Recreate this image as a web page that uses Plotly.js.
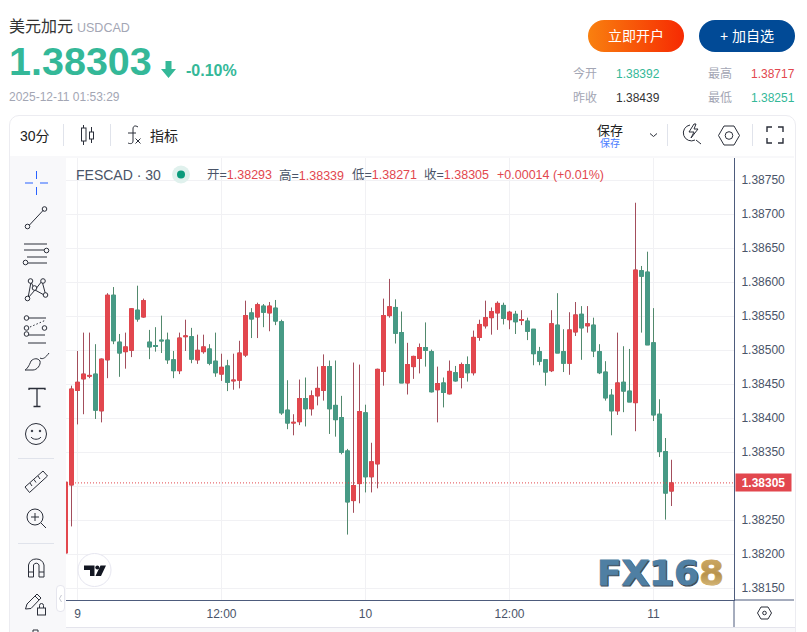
<!DOCTYPE html>
<html><head><meta charset="utf-8">
<script src="https://cdn.plot.ly/plotly-3.0.1.min.js"></script>
<style>
html,body{margin:0;padding:0;width:807px;height:632px;overflow:hidden;background:#fff;font-family:"Liberation Sans","Noto Sans CJK SC",sans-serif}
.a{position:absolute;white-space:nowrap;line-height:1}
#frame{position:absolute;left:9px;top:115px;width:785px;height:530px;border:1px solid #ececf1;border-radius:10px;background:#fff;box-sizing:content-box}
#band{position:absolute;left:10px;top:156px;width:784px;height:2px;background:#f8f8fa}
#side{position:absolute;left:10px;top:156px;width:56px;height:476px;background:#f8f8fa}
#foot{position:absolute;left:66px;top:627px;width:729px;height:5px;background:#f8f8fa;border-top:1px solid #e4e4ec;box-sizing:border-box}
#chart{position:absolute;left:0;top:0;width:807px;height:632px}
#over{position:absolute;left:0;top:0;width:807px;height:632px;pointer-events:none}
.btn{position:absolute;top:20px;width:96px;height:32px;border-radius:16px;color:#fff;font-size:14px;line-height:32px;text-align:center}
</style></head><body>
<div id="frame"></div><div id="band"></div><div id="side"></div><div id="foot"></div>
<div id="chart"></div>

<div class="a" style="left:9px;top:19px;font-size:16px;color:#333">美元加元</div>
<div class="a" style="left:77px;top:22px;font-size:12.5px;color:#a3a6b4">USDCAD</div>
<div class="a" style="left:9px;top:42px;font-size:39.5px;font-weight:700;color:#34b898">1.38303</div>
<div class="a" style="left:186px;top:63px;font-size:16px;font-weight:700;color:#34b898">-0.10%</div>
<div class="a" style="left:9px;top:91px;font-size:12px;color:#a3a6b4">2025-12-11 01:53:29</div>
<div class="btn" style="left:588px;background:linear-gradient(90deg,#f9800f,#f62a02)">立即开户</div>
<div class="btn" style="left:699px;background:#014a96">+ 加自选</div>
<div class="a" style="left:573px;top:68px;font-size:12px;color:#a3a6b4">今开</div>
<div class="a" style="left:616px;top:68px;font-size:12px;color:#34b898">1.38392</div>
<div class="a" style="left:708px;top:68px;font-size:12px;color:#a3a6b4">最高</div>
<div class="a" style="left:751px;top:68px;font-size:12px;color:#e2474e">1.38717</div>
<div class="a" style="left:573px;top:92px;font-size:12px;color:#a3a6b4">昨收</div>
<div class="a" style="left:616px;top:92px;font-size:12px;color:#333">1.38439</div>
<div class="a" style="left:708px;top:92px;font-size:12px;color:#a3a6b4">最低</div>
<div class="a" style="left:751px;top:92px;font-size:12px;color:#34b898">1.38251</div>
<div class="a" style="left:20px;top:129px;font-size:14px;color:#222">30分</div>
<div class="a" style="left:150px;top:129px;font-size:14px;color:#222">指标</div>
<div class="a" style="left:597px;top:124px;font-size:13px;color:#222">保存</div>
<div class="a" style="left:600px;top:139px;font-size:10px;color:#4a7dff">保存</div>

<svg id="over" viewBox="0 0 807 632" fill="none" stroke="#2a2e39" stroke-width="1">
 <path d="M165.500 61h6v8h4.500l-7.500 9-7.500-9h4.500z" fill="#34b898" stroke="none"/>
 <g stroke="#e0e3eb" stroke-width="1"><path d="M63.500 124v22M110.500 124v22M667.500 124v22M752.500 124v22"/></g>
 <path d="M83.500 125v20M91.500 127v16"/><rect x="81.500" y="128" width="4.500" height="13" fill="#fff"/><rect x="89.500" y="132" width="4" height="7" fill="#fff"/>
 <path d="M138 127c-3-2-5-1-5 2v12c0 3-3 3-5 2M128 133h8M135.500 138.500l5 5M140.500 138.500l-5 5"/>
 <path d="M650 133.500l3.500 3 3.500-3"/>
 <path d="M690 125a8 8 0 1 0 5 15M696 140l5 4M694 124l-5 8h5l-3 6 7-9h-4l2-5z"/>
 <path d="M724 126h10l5.500 9.500-5.500 9.500h-10l-5.500-9.500z"/><circle cx="729" cy="135.500" r="3.800"/>
 <path d="M767 132v-5h5M778 127h5v5M783 138v5h-5M772 143h-5v-5" stroke-width="1.400"/>
 <g stroke="#2962ff"><path d="M25 183h8M40 183h8M36.500 171v8M36.500 187v8"/></g>
 <path d="M29.500 225l14-15"/><circle cx="27.500" cy="226.500" r="2.300"/><circle cx="44.500" cy="209" r="2.300"/>
 <path d="M24 244h23M24 250h21M27 257h20M28 263h19"/><circle cx="46.500" cy="250.500" r="2.300" fill="#f8f8fa"/><circle cx="25.500" cy="262.500" r="2.300" fill="#f8f8fa"/>
 <path d="M28 298l3-16 4 8 7-9 4 15-11-6z"/><g fill="#f8f8fa"><circle cx="27.500" cy="298.500" r="2.300"/><circle cx="30.500" cy="281" r="2.300"/><circle cx="34.500" cy="288" r="2.300"/><circle cx="43" cy="281" r="2.300"/><circle cx="45.500" cy="295" r="2.300"/></g>
 <path d="M28 318h18M28 335h17M28 343h18"/><path d="M30 327l16-7" stroke-dasharray="1.500 2"/><g fill="#f8f8fa"><circle cx="26.500" cy="318" r="2.300"/><circle cx="26.500" cy="328" r="2.300"/><circle cx="44.500" cy="328" r="2.300"/><circle cx="26.500" cy="334" r="2.300"/></g>
 <path d="M25 370c2-1 4-4 6-9 3-3 7-3 9 0 1 4-3 9-7 9zM40 358c3 2 6-1 9-5"/>
 <path d="M29 390v-1.500h16v1.500M37 388.500v18M33.500 406.500h7" stroke-width="1.300"/>
 <circle cx="36" cy="434" r="10.500"/><path d="M31 437c2 3 8 3 10 0"/><circle cx="32" cy="431" r=".8" fill="#2a2e39"/><circle cx="40" cy="431" r=".8" fill="#2a2e39"/>
 <g stroke="#e0e3eb" stroke-width="1"><path d="M18 458.500h36M18 543.500h36"/></g>
 <path d="M25 487l18-16 4.500 5-18 16.500zM30 483l2 3M34 479.500l2 3M38 476l2 3"/>
 <circle cx="35" cy="517" r="8"/><path d="M41 523l5 5M31 517h8M35 513v8"/>
 <path d="M28.500 577v-12a8 8 0 0 1 15.500 0v12h-5v-12a3 3 0 0 0-5.500 0v12zM28.500 572h5M39 572h5"/>
 <path d="M25.500 609l1.500-5 10-10 4 4-10 10.500zM35 596l4 4"/><rect x="37.500" y="608" width="8" height="7"/><path d="M39.500 608v-2.500a2 2 0 0 1 4 0v2.500"/>
 <path d="M33 632v-2h5v2"/>
 <rect x="56.500" y="585.500" width="8" height="26" rx="3.500" fill="#fff" stroke="#e6e6ee"/><path d="M61.500 595l-2 3.500 2 3.500" stroke="#c4c6d0"/>
 <path d="M761 607h7l3.500 6-3.500 6h-7l-3.500-6z"/><circle cx="764.500" cy="613" r="1.800"/>
 <circle cx="94.500" cy="570" r="16.500" fill="#fff" stroke="#e6e6f0"/>
 <path d="M84 565.500h10.500v10.500h-4.500v-6h-6zM100.500 565.500h5.500l-5 10.500h-5.500z" fill="#131722" stroke="none"/><circle cx="97.300" cy="567.600" r="2" fill="#131722" stroke="none"/>
 <defs><linearGradient id="gold" x1="0" y1="0" x2="0" y2="1"><stop offset="0" stop-color="#d4b06a"/><stop offset=".55" stop-color="#b8934e"/><stop offset="1" stop-color="#e3c88c"/></linearGradient></defs>
 <g font-family="DejaVu Sans" font-weight="700" font-size="34" style="paint-order:stroke">
  <text x="598" y="585.500" fill="#3f4a55" stroke="#3f4a55" stroke-width="1" textLength="102" lengthAdjust="spacingAndGlyphs">FX16</text>
  <text x="597" y="584.500" fill="#4f7fa3" stroke="#4f7fa3" stroke-width=".8" textLength="102" lengthAdjust="spacingAndGlyphs">FX16</text>
  <text x="699" y="584.500" fill="url(#gold)" stroke="#c9a55f" stroke-width=".8" textLength="25" lengthAdjust="spacingAndGlyphs">8</text>
 </g>
</svg>

<script>
var tickPositions=[0,24,48,72,96];
var tickLabels=["9","12:00","10","12:00","11"];
var priceTicks=[1.3815,1.382,1.3825,1.383,1.3835,1.384,1.3845,1.385,1.3855,1.386,1.3865,1.387,1.3875];
var priceTickLabels=["1.38150","1.38200","1.38250","","1.38350","1.38400","1.38450","1.38500","1.38550","1.38600","1.38650","1.38700","1.38750"];
var lastPrice=1.38305;
var legendLabels=["开=","高=","低=","收="];
var legendValues=["1.38293","1.38339","1.38271","1.38305"];
var changeText="+0.00014 (+0.01%)";
var firstIndex=-2;
var openV=[1.38202,1.38302,1.38441,1.38458,1.38462,1.38465,1.38411,1.38486,1.38581,1.38512,1.38498,1.38500,1.38559,1.38549,1.38512,1.38507,1.38515,1.38515,1.38486,1.38470,1.38520,1.38520,1.38486,1.38498,1.38502,1.38484,1.38465,1.38477,1.38455,1.38456,1.38493,1.38555,1.38549,1.38565,1.38555,1.38562,1.38542,1.38412,1.38393,1.38395,1.38429,1.38414,1.38433,1.38441,1.38476,1.38419,1.38401,1.38352,1.38279,1.38304,1.38408,1.38314,1.38333,1.38469,1.38551,1.38563,1.38526,1.38452,1.38476,1.38488,1.38504,1.38498,1.38442,1.38452,1.38436,1.38467,1.38460,1.38479,1.38467,1.38519,1.38536,1.38548,1.38555,1.38566,1.38545,1.38553,1.38544,1.38543,1.38531,1.38498,1.38486,1.38470,1.38537,1.38498,1.38481,1.38527,1.38553,1.38536,1.38537,1.38498,1.38468,1.38434,1.38411,1.38453,1.38440,1.38423,1.38617,1.38615,1.38511,1.38406,1.38351,1.38293];
var highV=[1.38306,1.38448,1.38499,1.38526,1.38526,1.38509,1.38488,1.38584,1.38593,1.38524,1.38526,1.38562,1.38595,1.38576,1.38530,1.38534,1.38551,1.38526,1.38499,1.38526,1.38545,1.38533,1.38523,1.38523,1.38509,1.38526,1.38495,1.38486,1.38495,1.38514,1.38573,1.38562,1.38570,1.38568,1.38571,1.38574,1.38545,1.38456,1.38406,1.38457,1.38460,1.38441,1.38476,1.38494,1.38485,1.38485,1.38433,1.38355,1.38482,1.38479,1.38420,1.38364,1.38473,1.38576,1.38605,1.38575,1.38557,1.38511,1.38492,1.38510,1.38541,1.38501,1.38476,1.38460,1.38485,1.38477,1.38482,1.38491,1.38529,1.38545,1.38573,1.38563,1.38572,1.38570,1.38558,1.38558,1.38559,1.38548,1.38531,1.38505,1.38486,1.38559,1.38584,1.38531,1.38556,1.38571,1.38565,1.38565,1.38548,1.38509,1.38484,1.38443,1.38526,1.38506,1.38502,1.38717,1.38624,1.38645,1.38562,1.38428,1.38371,1.38339];
var lowV=[1.38202,1.38241,1.38391,1.38406,1.38459,1.38399,1.38394,1.38459,1.38509,1.38461,1.38473,1.38490,1.38542,1.38548,1.38487,1.38498,1.38496,1.38480,1.38459,1.38465,1.38499,1.38481,1.38480,1.38495,1.38478,1.38461,1.38455,1.38440,1.38442,1.38444,1.38490,1.38518,1.38518,1.38534,1.38528,1.38537,1.38405,1.38384,1.38375,1.38390,1.38388,1.38404,1.38419,1.38426,1.38377,1.38373,1.38347,1.38229,1.38261,1.38275,1.38291,1.38291,1.38297,1.38448,1.38548,1.38510,1.38452,1.38435,1.38458,1.38466,1.38476,1.38438,1.38394,1.38416,1.38435,1.38454,1.38444,1.38454,1.38463,1.38514,1.38532,1.38523,1.38530,1.38538,1.38531,1.38524,1.38537,1.38515,1.38478,1.38478,1.38448,1.38468,1.38496,1.38468,1.38464,1.38521,1.38486,1.38526,1.38490,1.38465,1.38426,1.38375,1.38405,1.38409,1.38424,1.38381,1.38526,1.38508,1.38396,1.38343,1.38251,1.38271];
var closeV=[1.38306,1.38443,1.38453,1.38465,1.38463,1.38412,1.38487,1.38581,1.38514,1.38496,1.38505,1.38561,1.38546,1.38573,1.38505,1.38506,1.38514,1.38486,1.38470,1.38518,1.38521,1.38487,1.38500,1.38505,1.38481,1.38467,1.38475,1.38453,1.38456,1.38496,1.38551,1.38546,1.38567,1.38556,1.38565,1.38543,1.38408,1.38393,1.38394,1.38429,1.38414,1.38433,1.38444,1.38476,1.38414,1.38398,1.38350,1.38277,1.38301,1.38410,1.38314,1.38336,1.38472,1.38551,1.38564,1.38525,1.38452,1.38479,1.38491,1.38504,1.38500,1.38439,1.38451,1.38438,1.38469,1.38455,1.38479,1.38467,1.38519,1.38538,1.38548,1.38557,1.38569,1.38547,1.38556,1.38542,1.38545,1.38528,1.38495,1.38484,1.38468,1.38539,1.38496,1.38481,1.38530,1.38552,1.38533,1.38539,1.38499,1.38467,1.38430,1.38411,1.38452,1.38440,1.38424,1.38618,1.38609,1.38508,1.38405,1.38351,1.38290,1.38305];

var xs=openV.map(function(_,k){return firstIndex+k;});
var RED="#e2474e",GRN="#479a85",RWICK="#a34e5c",GWICK="#52896d",INK="#4a5468",AXIS="#4d5b7c";
var bodyHi=openV.map(function(o,k){return Math.max(o,closeV[k]);});
var bodyLo=openV.map(function(o,k){return Math.min(o,closeV[k]);});

var wicks={type:"candlestick",x:xs,open:openV,high:highV,low:lowV,close:closeV,whiskerwidth:0,hoverinfo:"skip",showlegend:false,
 increasing:{line:{color:RWICK,width:1},fillcolor:RED},decreasing:{line:{color:GWICK,width:1},fillcolor:GRN}};
var bodies={type:"candlestick",x:xs,open:openV,high:bodyHi,low:bodyLo,close:closeV,whiskerwidth:0,hoverinfo:"skip",showlegend:false,
 increasing:{line:{color:RED,width:1},fillcolor:RED},decreasing:{line:{color:GRN,width:1},fillcolor:GRN}};

var L=66,R=734,T=158,B=600;
function px(x){return (x-L)/(R-L);}
function py(y){return (B-y)/(B-T);}
function note(x,y,html,size){return {xref:"paper",yref:"paper",x:px(x),y:py(y),xanchor:"left",yanchor:"middle",showarrow:false,text:html,font:{size:size,color:INK,family:'"Liberation Sans","Noto Sans CJK SC",sans-serif'}};}
function val(s,c){return '<span style="color:'+c+'">'+s+'</span>';}
var anns=[note(73.500,174.500,"FESCAD · 30",14)];
var legendX=[205,277,350,422];
legendLabels.forEach(function(l,k){anns.push(note(legendX[k],175,l+val(legendValues[k],RED),12.500));});
anns.push(note(495,175,val(changeText,RED),12.500));
anns.push({xref:"paper",yref:"y",x:1,y:lastPrice,xanchor:"left",yanchor:"middle",xshift:1,showarrow:false,text:"<b>"+lastPrice.toFixed(5)+"</b>",
 font:{size:12,color:"#fff",family:'"Liberation Sans",sans-serif'},bgcolor:RED,width:55,height:17,borderpad:0,align:"center"});

var layout={width:807,height:632,margin:{l:L,r:807-R,t:T,b:632-B},paper_bgcolor:"rgba(0,0,0,0)",plot_bgcolor:"#fff",
 showlegend:false,boxmode:"overlay",boxgap:0.3333,boxgroupgap:0,dragmode:false,
 font:{family:'"Liberation Sans","Noto Sans CJK SC",sans-serif',color:INK,size:12},
 xaxis:{type:"linear",range:[-1.9167,109.4167],rangeslider:{visible:false},tickmode:"array",tickvals:tickPositions,ticktext:tickLabels,
  showgrid:true,gridcolor:"#f1f1f4",gridwidth:1,zeroline:false,showline:true,linecolor:AXIS,linewidth:1,ticks:"outside",ticklen:3,tickcolor:"rgba(0,0,0,0)",tickfont:{size:12,color:INK}},
 yaxis:{range:[1.381328,1.387828],side:"right",tickmode:"array",tickvals:priceTicks,ticktext:priceTickLabels,ticklabelshift:-1,
  showgrid:true,gridcolor:"#f1f1f4",gridwidth:1,zeroline:false,showline:true,linecolor:AXIS,linewidth:1,ticks:"outside",ticklen:4,tickcolor:"rgba(0,0,0,0)",tickfont:{size:12,color:INK}},
 shapes:[
  {type:"line",xref:"paper",yref:"y",x0:0,x1:1,y0:lastPrice,y1:lastPrice,line:{color:RED,width:1,dash:"1px,2px"}},
  {type:"line",xref:"paper",yref:"paper",x0:1,x1:px(794),y0:0,y1:0,line:{color:AXIS,width:1}},
  {type:"line",xref:"paper",yref:"paper",x0:1,x1:1,y0:0,y1:py(627),line:{color:AXIS,width:1}},
  {type:"circle",xref:"paper",yref:"paper",xsizemode:"pixel",ysizemode:"pixel",xanchor:px(181),yanchor:py(174.500),x0:-9,x1:9,y0:-9,y1:9,fillcolor:"#e0f1ed",line:{width:0}},
  {type:"circle",xref:"paper",yref:"paper",xsizemode:"pixel",ysizemode:"pixel",xanchor:px(181),yanchor:py(174.500),x0:-4,x1:4,y0:-4,y1:4,fillcolor:"#0b9b7c",line:{width:0}}
 ],
 annotations:anns};
Plotly.newPlot("chart",[wicks,bodies],layout,{displayModeBar:false,staticPlot:true});
</script>
</body></html>
